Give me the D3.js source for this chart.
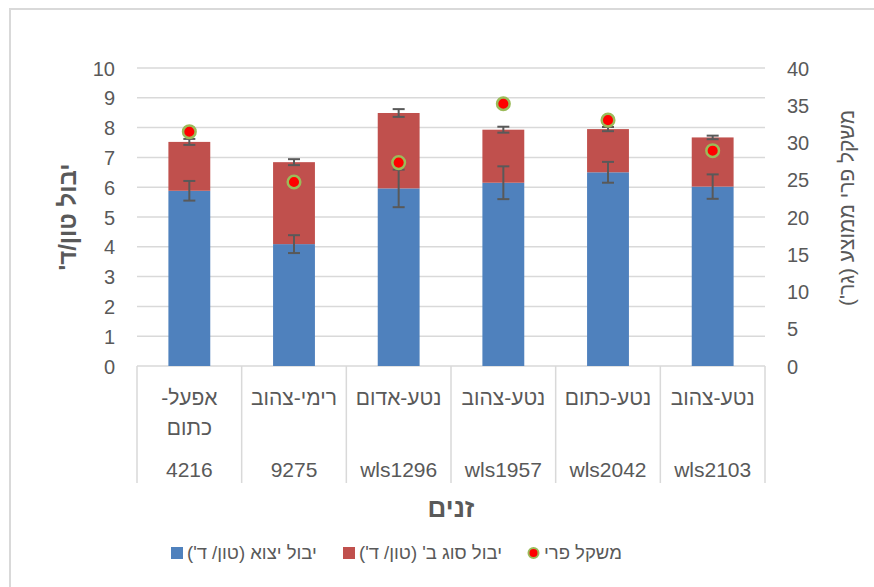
<!DOCTYPE html>
<html>
<head>
<meta charset="utf-8">
<script src="https://cdn.jsdelivr.net/npm/d3@7/dist/d3.min.js"></script>
<style>
  html, body { margin: 0; padding: 0; background: #fff; }
  svg { display: block; font-family: "Liberation Sans", "DejaVu Sans", sans-serif; }
</style>
</head>
<body>
<svg id="chart" width="874" height="587"></svg>
<script>
// ---- data ----
const categoryLines = [["אפעל-", "כתום"], ["רימי-צהוב"], ["נטע-אדום"], ["נטע-צהוב"], ["נטע-כתום"], ["נטע-צהוב"]];
const codes = ["4216", "9275", "wls1296", "wls1957", "wls2042", "wls2103"];
const exportYield = [5.88, 4.09, 5.96, 6.15, 6.50, 6.02];
const gradeBYield = [1.64, 2.75, 2.53, 1.78, 1.45, 1.65];
const exportErr = [0.33, 0.30, 0.63, 0.55, 0.35, 0.41];
const totalErr = [0.10, 0.10, 0.13, 0.10, 0.07, 0.06];
const fruitWeight = [31.45, 24.7, 27.3, 35.2, 33.0, 28.9];
const leftTicks = [0, 1, 2, 3, 4, 5, 6, 7, 8, 9, 10];
const rightTicks = [0, 5, 10, 15, 20, 25, 30, 35, 40];
const seriesNames = ["יבול יצוא (טון/ ד')", "יבול סוג ב' (טון/ ד')", "משקל פרי"];
const yTitle = "יבול טון/ד'";
const y2Title = "משקל פרי ממוצע (גר')";
const xTitle = "זנים";

// ---- layout ----
const plot = { left: 137, right: 765, top: 68, bottom: 366 };
const textColor = "#595959";
const gridColor = "#d9d9d9";
const blue = "#4F81BD", red = "#C0504D";

const svg = d3.select("#chart");

// outer chart border
svg.append("rect").attr("x", 10).attr("y", 9).attr("width", 900).attr("height", 700)
  .attr("fill", "none").attr("stroke", gridColor).attr("stroke-width", 2);

const idx = d3.range(categoryLines.length);
const x = d3.scaleBand().domain(idx).range([plot.left, plot.right]);
const y = d3.scaleLinear().domain([0, 10]).range([plot.bottom, plot.top]);
const y2 = d3.scaleLinear().domain([0, 40]).range([plot.bottom, plot.top]);
const barW = x.bandwidth() * 0.4;
const cx = i => x(i) + x.bandwidth() / 2;

// gridlines
svg.append("g").selectAll("line").data(leftTicks).join("line")
  .attr("x1", plot.left).attr("x2", plot.right)
  .attr("y1", d => y(d)).attr("y2", d => y(d))
  .attr("stroke", gridColor).attr("stroke-width", 1.5);

// left axis
const gl = svg.append("g").attr("transform", `translate(${plot.left - 22},0)`)
  .call(d3.axisLeft(y).tickValues(leftTicks).tickSize(0).tickPadding(0).tickFormat(d3.format("d")));
gl.select(".domain").remove();
gl.selectAll("text").attr("fill", textColor).attr("font-size", 20).attr("dy", "0.35em")
  .style("font-family", "Liberation Sans, sans-serif");

// right axis
const gr = svg.append("g").attr("transform", `translate(${plot.right + 22},0)`)
  .call(d3.axisRight(y2).tickValues(rightTicks).tickSize(0).tickPadding(0).tickFormat(d3.format("d")));
gr.select(".domain").remove();
gr.selectAll("text").attr("fill", textColor).attr("font-size", 20).attr("dy", "0.35em")
  .style("font-family", "Liberation Sans, sans-serif");

// category separators
const bounds = idx.map(i => x(i)).concat([plot.right]);
svg.append("g").selectAll("line").data(bounds).join("line")
  .attr("x1", d => d).attr("x2", d => d)
  .attr("y1", plot.bottom).attr("y2", plot.bottom + 117)
  .attr("stroke", gridColor).attr("stroke-width", 1.5);

// bars
svg.append("g").selectAll("rect").data(idx).join("rect")
  .attr("x", i => cx(i) - barW / 2).attr("width", barW)
  .attr("y", i => y(exportYield[i])).attr("height", i => y(0) - y(exportYield[i]))
  .attr("fill", blue);
svg.append("g").selectAll("rect").data(idx).join("rect")
  .attr("x", i => cx(i) - barW / 2).attr("width", barW)
  .attr("y", i => y(exportYield[i] + gradeBYield[i]))
  .attr("height", i => y(exportYield[i]) - y(exportYield[i] + gradeBYield[i]))
  .attr("fill", red);

// error bars
function errBars(vals, errs) {
  const g = svg.append("g").attr("stroke", textColor).attr("stroke-width", 2);
  const cap = 6;
  idx.forEach(i => {
    const v = vals[i], e = errs[i];
    g.append("line").attr("x1", cx(i)).attr("x2", cx(i)).attr("y1", y(v - e)).attr("y2", y(v + e));
    g.append("line").attr("x1", cx(i) - cap).attr("x2", cx(i) + cap).attr("y1", y(v - e)).attr("y2", y(v - e));
    g.append("line").attr("x1", cx(i) - cap).attr("x2", cx(i) + cap).attr("y1", y(v + e)).attr("y2", y(v + e));
  });
}
errBars(exportYield, exportErr);
errBars(idx.map(i => exportYield[i] + gradeBYield[i]), totalErr);

// fruit weight dots
svg.append("g").selectAll("circle").data(idx).join("circle")
  .attr("cx", cx).attr("cy", i => y2(fruitWeight[i])).attr("r", 6.3)
  .attr("fill", "#FF0000").attr("stroke", "#9BBB59").attr("stroke-width", 2.5);

// category labels
const cl = svg.append("g").attr("fill", textColor).attr("font-size", 21).attr("text-anchor", "middle");
idx.forEach(i => {
  categoryLines[i].forEach((line, k) => {
    cl.append("text").attr("x", cx(i)).attr("y", 405 + k * 30)
      .attr("direction", "rtl").style("unicode-bidi", "embed").text(line);
  });
  cl.append("text").attr("x", cx(i)).attr("y", 477).text(codes[i]);
});

// axis titles
svg.append("text").attr("transform", `translate(${76},${(plot.top + plot.bottom) / 2}) rotate(-90)`)
  .attr("text-anchor", "middle").attr("font-size", 24).attr("font-weight", "bold")
  .attr("fill", textColor).attr("direction", "rtl").style("unicode-bidi", "embed").text(yTitle);
svg.append("text").attr("transform", `translate(${854},${208}) rotate(-90)`)
  .attr("text-anchor", "middle").attr("font-size", 21)
  .attr("fill", textColor).attr("direction", "rtl").style("unicode-bidi", "embed").text(y2Title);
svg.append("text").attr("x", (plot.left + plot.right) / 2).attr("y", 517)
  .attr("text-anchor", "middle").attr("font-size", 26).attr("font-weight", "bold")
  .attr("fill", textColor).text(xTitle);

// legend (text anchored at its left end, after the marker)
const legendY = 553;
const legendItems = [
  { name: seriesNames[0], type: "rect", color: blue, mx: 171, tx: 187 },
  { name: seriesNames[1], type: "rect", color: red, mx: 343, tx: 359 },
  { name: seriesNames[2], type: "dot", color: "#FF0000", mx: 528, tx: 544 }
];
const lg = svg.append("g");
legendItems.forEach(it => {
  if (it.type === "rect") {
    lg.append("rect").attr("x", it.mx).attr("y", legendY - 6).attr("width", 12).attr("height", 12).attr("fill", it.color);
  } else {
    lg.append("circle").attr("cx", it.mx + 5.5).attr("cy", legendY).attr("r", 5)
      .attr("fill", it.color).attr("stroke", "#9BBB59").attr("stroke-width", 2);
  }
  lg.append("text").attr("x", it.tx).attr("y", legendY).attr("dy", "0.35em")
    .attr("text-anchor", "end").attr("direction", "rtl").style("unicode-bidi", "embed")
    .attr("font-size", 18.5).attr("fill", textColor).text(it.name);
});
</script>
</body>
</html>
